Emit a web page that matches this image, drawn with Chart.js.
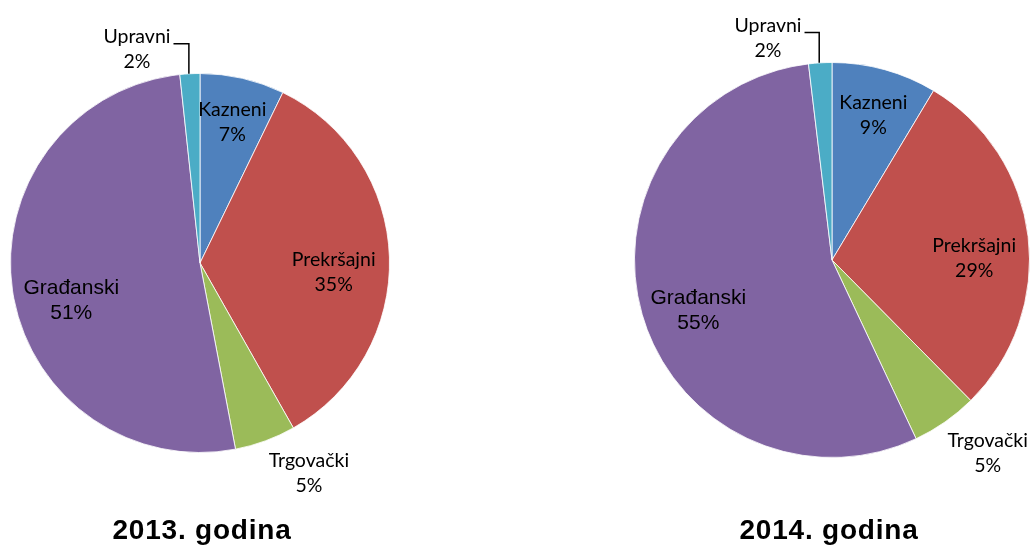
<!DOCTYPE html>
<html>
<head>
<meta charset="utf-8">
<script src="https://cdn.jsdelivr.net/npm/chart.js@4/dist/chart.umd.min.js"></script>
<style>
  html, body { margin: 0; padding: 0; background: #fff; }
  body { width: 1032px; height: 547px; position: relative; overflow: hidden; }
  canvas { position: absolute; top: 0; }
  .title { position: absolute; top: 515px; width: 300px; text-align: center;
           font: bold 28px "Liberation Sans", Arial, sans-serif; line-height: 30px;
           letter-spacing: 0.8px; color: #000; }
</style>
</head>
<body>
<canvas id="c2013" width="400" height="547" style="left:0px"></canvas>
<canvas id="c2014" width="432" height="547" style="left:600px"></canvas>
<div class="title" style="left:52px">2013. godina</div>
<div class="title" style="left:679px">2014. godina</div>
<script>
// ---- data ----
const categories = ['Kazneni', 'Prekršajni', 'Trgovački', 'Građanski', 'Upravni'];
const values2013 = [7.2, 34.6, 5.2, 51.3, 1.7];
const values2014 = [8.6, 29.0, 5.4, 55.1, 1.9];
const titles = ['2013. godina', '2014. godina'];

// ---- styling ----
const colors = ['#4F81BD', '#C0504D', '#9BBB59', '#8064A2', '#4BACC6'];
const calibriLike = '19.5px Lato, "Noto Sans", sans-serif';
const arialLike = '21px "Liberation Sans", Arial, sans-serif';
const labelFonts = [calibriLike, calibriLike, calibriLike, arialLike, calibriLike];
const leaderIndex = 4;

const labelPlugin = {
  id: 'sliceLabels',
  afterDraw(chart) {
    const opts = chart.options.plugins.sliceLabels;
    const ctx = chart.ctx;
    const ds = chart.data.datasets[0];
    const total = ds.data.reduce((a, b) => a + b, 0);
    const meta = chart.getDatasetMeta(0);
    ctx.save();
    ctx.textAlign = 'center';
    ctx.textBaseline = 'middle';
    ctx.fillStyle = '#000';
    meta.data.forEach((arc, i) => {
      const p = arc.getProps(['x', 'y', 'startAngle', 'endAngle', 'outerRadius'], true);
      const mid = (p.startAngle + p.endAngle) / 2;
      const a = mid + opts.shift[i] * Math.PI / 180;
      const r = p.outerRadius * opts.frac[i];
      const lx = p.x + Math.cos(a) * r;
      const ly = p.y + Math.sin(a) * r;
      const name = chart.data.labels[i];
      const pct = Math.round(ds.data[i] / total * 100) + '%';
      ctx.font = labelFonts[i];
      ctx.fillText(name, lx, ly - 12.5);
      ctx.fillText(pct, lx, ly + 12.5);
      if (i === leaderIndex) {
        const ex = p.x + Math.cos(mid) * p.outerRadius;
        const ey = p.y + Math.sin(mid) * p.outerRadius;
        const elbowY = ly - 6;
        const hw = ctx.measureText(name).width / 2;
        ctx.strokeStyle = '#000';
        ctx.lineWidth = 1.5;
        ctx.beginPath();
        ctx.moveTo(ex - 1, ey);
        ctx.lineTo(ex - 1, elbowY);
        ctx.lineTo(lx + hw + 3, elbowY);
        ctx.stroke();
      }
    });
    ctx.restore();
  }
};

function makePie(id, values, padding, frac, shift) {
  return new Chart(document.getElementById(id), {
    type: 'pie',
    data: {
      labels: categories,
      datasets: [{
        data: values,
        backgroundColor: colors,
        borderColor: 'rgba(255,255,255,0.8)',
        borderWidth: 1
      }]
    },
    options: {
      responsive: false,
      animation: false,
      layout: { padding: padding },
      plugins: {
        legend: { display: false },
        tooltip: { enabled: false },
        sliceLabels: { frac: frac, shift: shift }
      }
    },
    plugins: [labelPlugin]
  });
}

makePie('c2013', values2013, { left: 10, right: 10, top: 73, bottom: 94 },
  [0.76, 0.707, 1.25, 0.708, 1.174], [0, 5.6, -7.2, -7.9, -13.4]);
makePie('c2014', values2014, { left: 34, right: 2, top: 62, bottom: 89 },
  [0.76, 0.72, 1.257, 0.724, 1.167], [0.5, 6.2, -3.9, -4.8, -12.7]);
</script>
</body>
</html>
